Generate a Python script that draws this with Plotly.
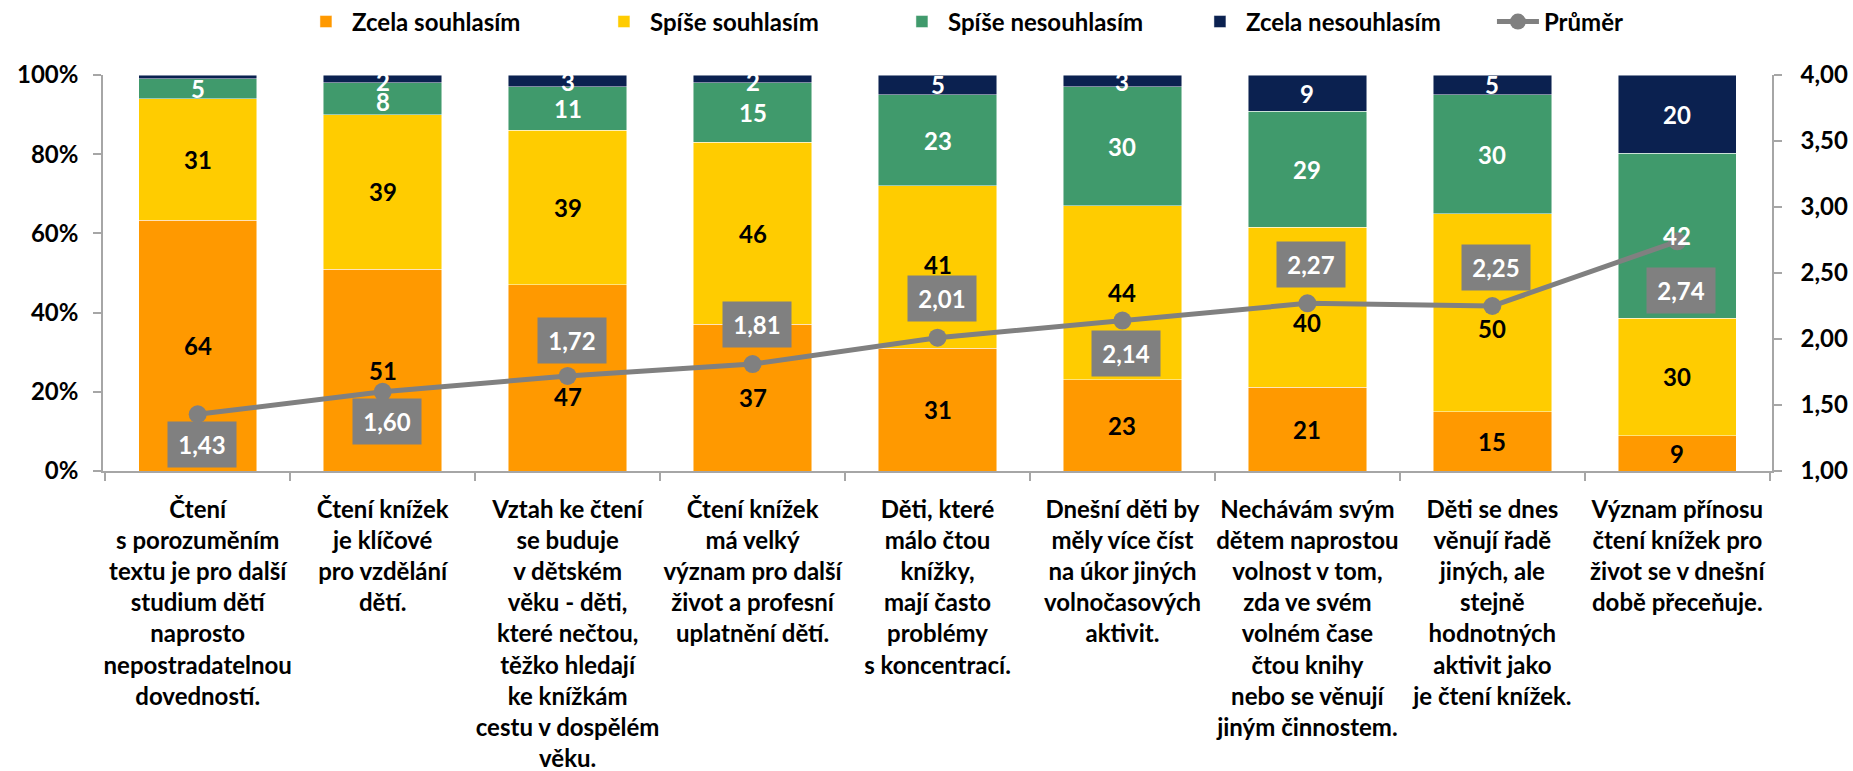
import plotly.graph_objects as go

# ---------------- data ----------------
categories = [
    "Čtení<br>s porozuměním<br>textu je pro další<br>studium dětí<br>naprosto<br>nepostradatelnou<br>dovedností.",
    "Čtení knížek<br>je klíčové<br>pro vzdělání<br>dětí.",
    "Vztah ke čtení<br>se buduje<br>v dětském<br>věku - děti,<br>které nečtou,<br>těžko hledají<br>ke knížkám<br>cestu v dospělém<br>věku.",
    "Čtení knížek<br>má velký<br>význam pro další<br>život a profesní<br>uplatnění dětí.",
    "Děti, které<br>málo čtou<br>knížky,<br>mají často<br>problémy<br>s koncentrací.",
    "Dnešní děti by<br>měly více číst<br>na úkor jiných<br>volnočasových<br>aktivit.",
    "Nechávám svým<br>dětem naprostou<br>volnost v tom,<br>zda ve svém<br>volném čase<br>čtou knihy<br>nebo se věnují<br>jiným činnostem.",
    "Děti se dnes<br>věnují řadě<br>jiných, ale<br>stejně<br>hodnotných<br>aktivit jako<br>je čtení knížek.",
    "Význam přínosu<br>čtení knížek pro<br>život se v dnešní<br>době přeceňuje.",
]
zcela_souhlasim = [64, 51, 47, 37, 31, 23, 21, 15, 9]
spise_souhlasim = [31, 39, 39, 46, 41, 44, 40, 50, 30]
spise_nesouhlasim = [5, 8, 11, 15, 23, 30, 29, 30, 42]
zcela_nesouhlasim = [1, 2, 3, 2, 5, 3, 9, 5, 20]
prumer = [1.43, 1.60, 1.72, 1.81, 2.01, 2.14, 2.27, 2.25, 2.74]

series_names = ["Zcela souhlasím", "Spíše souhlasím", "Spíše nesouhlasím", "Zcela nesouhlasím"]
series_values = [zcela_souhlasim, spise_souhlasim, spise_nesouhlasim, zcela_nesouhlasim]
mean_name = "Průměr"

y_ticks = [0, 20, 40, 60, 80, 100]

# ---------------- styles ----------------
FONT = "Lato, 'Liberation Sans', sans-serif"
FS = 24
bar_colors = ["#FF9900", "#FFCC00", "#409A6C", "#0B2150"]
text_colors = ["#000000", "#000000", "#FFFFFF", "#FFFFFF"]
gray = "#808080"
axis_gray = "#A6A6A6"
# vertical offset (px) of each mean label box relative to its marker
label_shift = [-30, -30, 35, 40, 39, -33, 39, 39, -49]
# manual nudges of some segment labels (series index, category index) -> px
seg_label_nudge = {(0, 2): -19, (1, 4): 3, (1, 6): -15, (1, 7): -16, (2, 1): -3}
TOP_LIMIT = 98.3  # labels of thin top segments are kept inside the plot area

fig = go.Figure()

for name, vals, col in zip(series_names, series_values, bar_colors):
    fig.add_trace(go.Bar(
        x=categories, y=vals, name=name,
        marker=dict(color=col, line=dict(color="rgba(255,255,255,0.6)", width=0.8)),
        hoverinfo="skip",
    ))

fig.add_trace(go.Scatter(
    x=categories, y=prumer, yaxis="y2", name=mean_name,
    mode="lines+markers",
    line=dict(color=gray, width=5),
    marker=dict(color=gray, size=18, symbol="circle"),
    hoverinfo="skip",
))

annotations = []
# segment value labels, placed at the middle of each normalised segment
totals = [sum(col) for col in zip(*series_values)]
for si, (vals, tcol) in enumerate(zip(series_values, text_colors)):
    for ci, (c, v) in enumerate(zip(categories, vals)):
        if si == 3 and ci == 0:
            continue  # tiny segment carries no label in the reference
        below = sum(series_values[k][ci] for k in range(si))
        ymid = (below + v / 2) / totals[ci] * 100
        ymid = min(ymid, TOP_LIMIT)
        annotations.append(dict(
            x=c, y=ymid, xref="x", yref="y", text=str(v), showarrow=False,
            font=dict(family=FONT, size=FS, color=tcol, weight="bold"),
            yshift=seg_label_nudge.get((si, ci), 0),
        ))

for c, v, s in zip(categories, prumer, label_shift):
    annotations.append(dict(
        x=c, y=v, xref="x", yref="y2",
        text=f"{v:.2f}".replace(".", ","),
        showarrow=False, bgcolor=gray,
        width=66, height=43, align="center", valign="middle",
        font=dict(family=FONT, size=FS, color="white", weight="bold"),
        yshift=s, xshift=4,
    ))

tickfont = dict(family=FONT, size=FS, color="black", weight="bold")

fig.update_layout(
    width=1853, height=771,
    margin=dict(l=103, r=81, t=75, b=300, pad=0, autoexpand=False),
    paper_bgcolor="white", plot_bgcolor="white",
    barmode="stack", barnorm="percent", bargap=0.36,
    separators=", ",
    font=dict(family=FONT, size=FS, color="black"),
    showlegend=True,
    legend=dict(
        orientation="h", x=0.118, xanchor="left", y=1.134, yanchor="middle",
        font=dict(family=FONT, size=FS, color="black", weight="bold"),
        itemwidth=42, traceorder="normal", bgcolor="rgba(0,0,0,0)",
        entrywidth=241, entrywidthmode="pixels",
    ),
    xaxis=dict(
        type="category", showline=True, linecolor=axis_gray, linewidth=1.5,
        ticks="outside", tickson="boundaries", ticklen=8, tickcolor=axis_gray, tickwidth=1.5,
        tickangle=0, automargin=False, ticklabelstandoff=16,
        tickfont=tickfont, showgrid=False, zeroline=False, fixedrange=True,
    ),
    yaxis=dict(
        range=[0, 100], tickvals=y_ticks, ticktext=[f"{t}%" for t in y_ticks],
        showline=True, linecolor=axis_gray, linewidth=1.5,
        ticks="outside", ticklen=8, tickcolor=axis_gray, tickwidth=1.5,
        ticklabelstandoff=10, automargin=False,
        tickfont=tickfont, showgrid=False, zeroline=False,
    ),
    yaxis2=dict(
        overlaying="y", side="right", range=[1, 4], dtick=0.5, tick0=1,
        tickformat=".2f",
        showline=True, linecolor=axis_gray, linewidth=1.5,
        ticks="outside", ticklen=8, tickcolor=axis_gray, tickwidth=1.5,
        ticklabelstandoff=14, automargin=False,
        tickfont=tickfont, showgrid=False, zeroline=False,
    ),
    annotations=annotations,
)

fig.write_html(
    "out.html",
    config={"displayModeBar": False},
    post_script="document.body.style.margin='0';document.body.style.overflow='hidden';",
)
